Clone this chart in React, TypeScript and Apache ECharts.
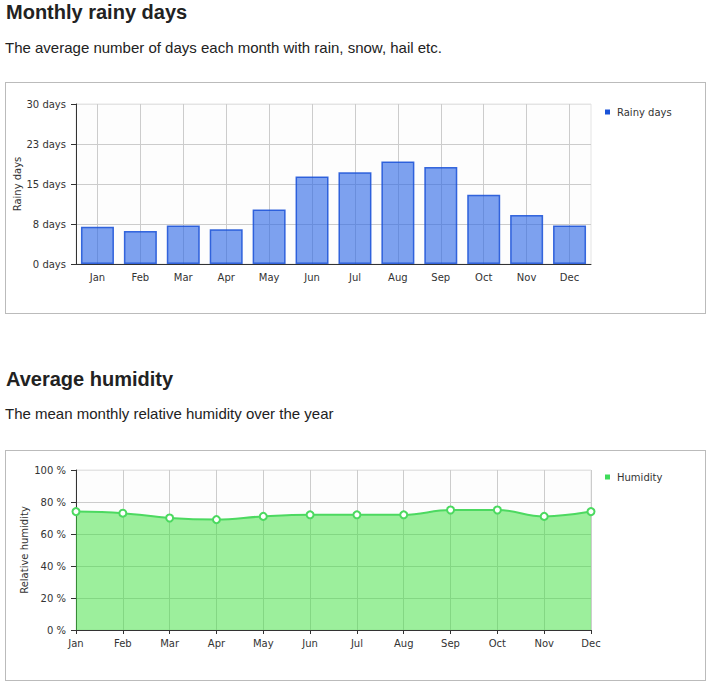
import React, { useEffect, useRef } from "react";
import * as echarts from "echarts";

const months = ["Jan", "Feb", "Mar", "Apr", "May", "Jun", "Jul", "Aug", "Sep", "Oct", "Nov", "Dec"];
const rainyDays = [7.0, 6.2, 7.2, 6.5, 10.2, 16.4, 17.2, 19.2, 18.2, 13.0, 9.2, 7.2];
const rainyTickLabels = ["0 days", "8 days", "15 days", "23 days", "30 days"];
const humidity = [74, 73, 70, 69, 71, 72, 72, 72, 75, 75, 71, 74];
const humidityTickLabels = ["0 %", "20 %", "40 %", "60 %", "80 %", "100 %"];

const FONT = "'DejaVu Sans', Verdana, sans-serif";
const LABEL = { fontFamily: FONT, fontSize: 10, color: "#333" };

function Chart({ option, width, height }: { option: any; width: number; height: number }) {
  const ref = useRef<HTMLDivElement>(null);
  useEffect(() => {
    const c = echarts.init(ref.current as HTMLDivElement, undefined, { renderer: "svg" });
    c.setOption(option);
    return () => c.dispose();
  }, []);
  return <div ref={ref} style={{ width, height }} />;
}

const rainOption = {
  animation: false,
  grid: {
    left: 70, top: 21, width: 515, height: 160,
    outerBoundsMode: "none", containLabel: false,
    show: true, borderColor: "#e4e4e4", borderWidth: 1, backgroundColor: "#fdfdfd",
  },
  legend: {
    left: 594,
    top: 19,
    icon: "rect",
    itemWidth: 5,
    itemHeight: 5,
    textStyle: { ...LABEL, padding: [0, 0, 0, 2] },
    data: [{ name: "Rainy days", itemStyle: { color: "#1a53d8", borderWidth: 0 } }],
  },
  xAxis: {
    type: "category",
    data: months,
    axisLine: { lineStyle: { color: "#333", width: 1 } },
    axisTick: { alignWithLabel: true, length: 4, lineStyle: { color: "#333" } },
    axisLabel: { ...LABEL, margin: 8, interval: 0 },
    splitLine: { show: true, interval: 0, alignWithLabel: true, lineStyle: { color: "#ccc" } },
  },
  yAxis: {
    type: "value",
    min: 0,
    max: 30,
    interval: 7.5,
    name: "Rainy days",
    nameLocation: "middle",
    nameGap: 54,
    nameMoveOverlap: false,
    nameTextStyle: LABEL,
    axisLine: { show: true, lineStyle: { color: "#333", width: 1 } },
    axisTick: { show: true, length: 5, lineStyle: { color: "#333" } },
    axisLabel: { ...LABEL, margin: 10, formatter: (_v: number, i: number) => rainyTickLabels[i] },
    splitLine: { lineStyle: { color: ["#ccc", "#ccc", "#ccc", "#ccc", "#e4e4e4"] } },
  },
  series: [
    {
      name: "Rainy days",
      type: "bar",
      data: rainyDays,
      barWidth: 33,
      itemStyle: { color: "rgba(40,100,230,0.6)", borderColor: "rgba(25,80,215,0.85)", borderWidth: 1.5 },
    },
  ],
};

const humOption = {
  animation: false,
  grid: {
    left: 70, top: 19, width: 515, height: 160,
    outerBoundsMode: "none", containLabel: false,
    show: true, borderColor: "#e4e4e4", borderWidth: 1, backgroundColor: "#fdfdfd",
  },
  legend: {
    left: 594,
    top: 16,
    icon: "rect",
    itemWidth: 5,
    itemHeight: 5,
    textStyle: { ...LABEL, padding: [0, 0, 0, 2] },
    data: [{ name: "Humidity", itemStyle: { color: "#3fdc5a", borderWidth: 0 } }],
  },
  xAxis: {
    type: "category",
    data: months,
    boundaryGap: false,
    axisLine: { lineStyle: { color: "#333", width: 1 } },
    axisTick: { length: 4, lineStyle: { color: "#333" } },
    axisLabel: { ...LABEL, margin: 8, interval: 0 },
    splitLine: { show: true, interval: 0, lineStyle: { color: "#ccc" } },
  },
  yAxis: {
    type: "value",
    min: 0,
    max: 100,
    interval: 20,
    name: "Relative humidity",
    nameLocation: "middle",
    nameGap: 47,
    nameMoveOverlap: false,
    nameTextStyle: LABEL,
    axisLine: { show: true, lineStyle: { color: "#333", width: 1 } },
    axisTick: { show: true, length: 5, lineStyle: { color: "#333" } },
    axisLabel: { ...LABEL, margin: 10, formatter: (_v: number, i: number) => humidityTickLabels[i] },
    splitLine: { lineStyle: { color: ["#ccc", "#ccc", "#ccc", "#ccc", "#ccc", "#e4e4e4"] } },
  },
  series: [
    {
      name: "Humidity",
      type: "line",
      data: humidity,
      smooth: 0.4,
      symbol: "emptyCircle",
      symbolSize: 7,
      lineStyle: { color: "#4cd960", width: 2 },
      itemStyle: { color: "#4cd960", borderWidth: 1.5 },
      areaStyle: { color: "rgb(60,225,60)", opacity: 0.5 },
    },
  ],
};

const titleStyle: React.CSSProperties = {
  position: "absolute",
  left: 6,
  margin: 0,
  fontSize: 20,
  lineHeight: "20px",
  fontWeight: "bold",
  color: "#222",
  whiteSpace: "nowrap",
};
const subStyle: React.CSSProperties = {
  position: "absolute",
  left: 5,
  margin: 0,
  fontSize: 15,
  lineHeight: "15px",
  color: "#222",
  whiteSpace: "nowrap",
};
const boxStyle: React.CSSProperties = {
  position: "absolute",
  left: 5,
  width: 701,
  boxSizing: "border-box",
  border: "1px solid #bbb",
};

export default function App() {
  return (
    <div
      style={{
        position: "absolute",
        left: 0,
        top: 0,
        width: 711,
        height: 685,
        background: "#fff",
        fontFamily: "'Liberation Sans', Arial, sans-serif",
        overflow: "hidden",
      }}
    >
      <div style={{ ...titleStyle, top: 2 }}>Monthly rainy days</div>
      <div style={{ ...subStyle, top: 40 }}>The average number of days each month with rain, snow, hail etc.</div>
      <div style={{ ...boxStyle, top: 82, height: 232 }}>
        <Chart option={rainOption} width={699} height={230} />
      </div>
      <div style={{ ...titleStyle, top: 369 }}>Average humidity</div>
      <div style={{ ...subStyle, top: 406 }}>The mean monthly relative humidity over the year</div>
      <div style={{ ...boxStyle, top: 450, height: 231 }}>
        <Chart option={humOption} width={699} height={229} />
      </div>
    </div>
  );
}
